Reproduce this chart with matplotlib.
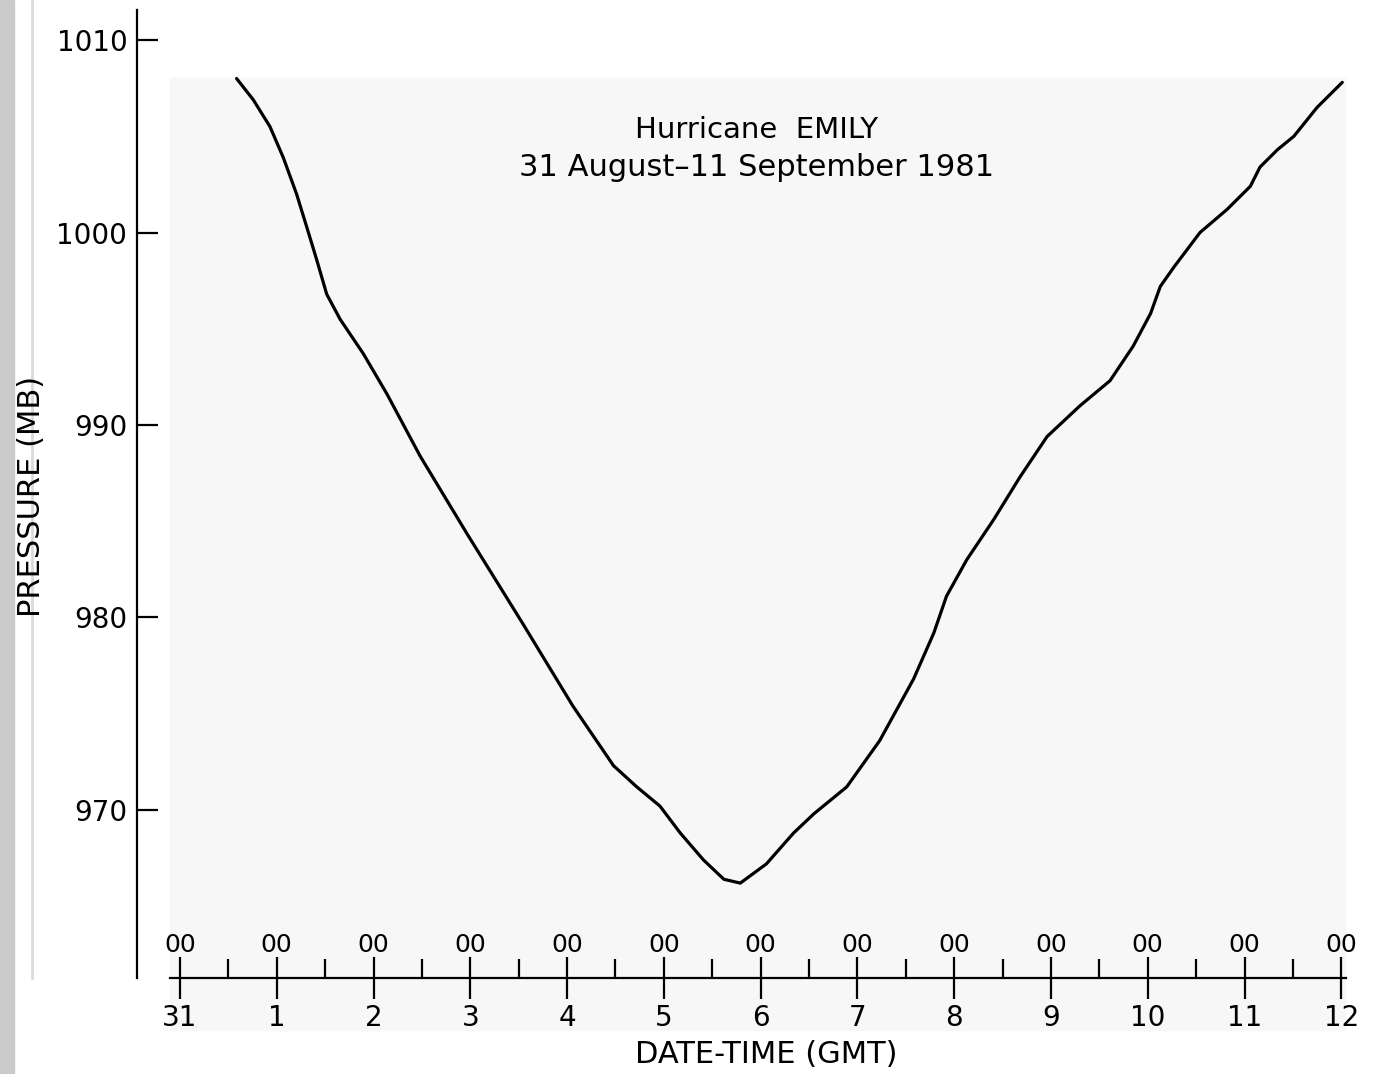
# Hurricane Emily (1981) central pressure trace, redrawn from a scanned figure
import matplotlib
matplotlib.use('Agg')
import matplotlib.pyplot as plt
from matplotlib.patches import Rectangle
from matplotlib.lines import Line2D

# == Data ====================================================
# time in days since 31 Aug 00 GMT, pressure in mb
day = [0.585, 0.757, 0.93, 1.067, 1.205, 1.309, 1.412, 1.516, 1.654, 1.895,
       2.14, 2.48, 2.96, 3.54, 4.06, 4.48, 4.72, 4.96, 5.17, 5.41,
       5.62, 5.79, 6.06, 6.34, 6.55, 6.89, 7.23, 7.58, 7.79, 7.92,
       8.13, 8.41, 8.68, 8.96, 9.30, 9.61, 9.85, 10.03, 10.13, 10.27,
       10.54, 10.82, 11.06, 11.16, 11.34, 11.51, 11.75, 12.01]
pressure = [1008.0, 1006.9, 1005.5, 1003.9, 1002.0, 1000.3, 998.6, 996.8, 995.5, 993.7,
            991.6, 988.4, 984.4, 979.7, 975.4, 972.3, 971.2, 970.2, 968.8, 967.4,
            966.4, 966.2, 967.2, 968.8, 969.8, 971.2, 973.6, 976.8, 979.2, 981.1,
            983.0, 985.1, 987.3, 989.4, 991.0, 992.3, 994.1, 995.8, 997.2, 998.2,
            1000.0, 1001.2, 1002.4, 1003.4, 1004.3, 1005.0, 1006.5, 1007.8]
day_ticks = list(range(0, 13))
day_labels = ['31', '1', '2', '3', '4', '5', '6', '7', '8', '9', '10', '11', '12']
hour_labels = ['00'] * 13
half_ticks = [d + 0.5 for d in range(0, 12)]
p_ticks = [970, 980, 990, 1000, 1010]
# ============================================================

plt.rcParams['font.family'] = 'DejaVu Sans'

fig = plt.figure(figsize=(13.73, 10.74), dpi=100)

# scan artefacts: greyish paper area, dark strip and fold line at left
fig.patches.append(Rectangle((170/1373, 1-1030/1074), 1175/1373, 952/1074,
                             transform=fig.transFigure, color='#f7f7f7', zorder=-5))
fig.patches.append(Rectangle((0, 0), 14/1373, 1, transform=fig.transFigure,
                             color='#cacaca', zorder=-5))
fig.lines.append(Line2D([32/1373, 32/1373], [1-978/1074, 1], transform=fig.transFigure,
                        color='#dadada', lw=2, zorder=-4))

ax = fig.add_axes([137/1373, 1-978/1074, 1213/1373, 968/1074])
ax.patch.set_alpha(0)

ax.plot(day, pressure, color='black', lw=2.3, solid_capstyle='round',
        solid_joinstyle='round')

ax.set_xlim(-0.444, 12.09)
ax.set_ylim(961.27, 1011.56)

# axes look
for s in ['top', 'right']:
    ax.spines[s].set_visible(False)
ax.spines['left'].set_linewidth(1.6)
ax.spines['bottom'].set_linewidth(1.6)
ax.spines['bottom'].set_bounds(-0.1, 12.05)

ax.set_yticks(p_ticks)
ax.set_yticklabels([str(p) for p in p_ticks])
ax.tick_params(axis='y', direction='in', length=15, width=1.6, pad=7, labelsize=20)

ax.set_xticks(day_ticks)
ax.set_xticklabels(day_labels)
ax.set_xticks(half_ticks, minor=True)
ax.tick_params(axis='x', which='major', direction='inout', length=30, width=1.6,
               pad=4, labelsize=20)
ax.tick_params(axis='x', which='minor', direction='in', length=14, width=1.6)

# hour labels above each major tick
for d, h in zip(day_ticks, hour_labels):
    ax.text(d, 0.034, h, transform=ax.get_xaxis_transform(), ha='center',
            va='center', fontsize=18)

ax.set_xlabel('DATE-TIME (GMT)', fontsize=22)
ax.xaxis.set_label_coords(0.519, -0.064)
ax.set_ylabel('PRESSURE (MB)', fontsize=22)
ax.yaxis.set_label_coords(-0.075, 0.497)

ax.text(0.511, 0.876, 'Hurricane  EMILY', transform=ax.transAxes, ha='center',
        va='center', fontsize=21)
ax.text(0.511, 0.837, '31 August\u201311 September 1981', transform=ax.transAxes,
        ha='center', va='center', fontsize=22)

fig.savefig('out.png', dpi=100, facecolor='white')
